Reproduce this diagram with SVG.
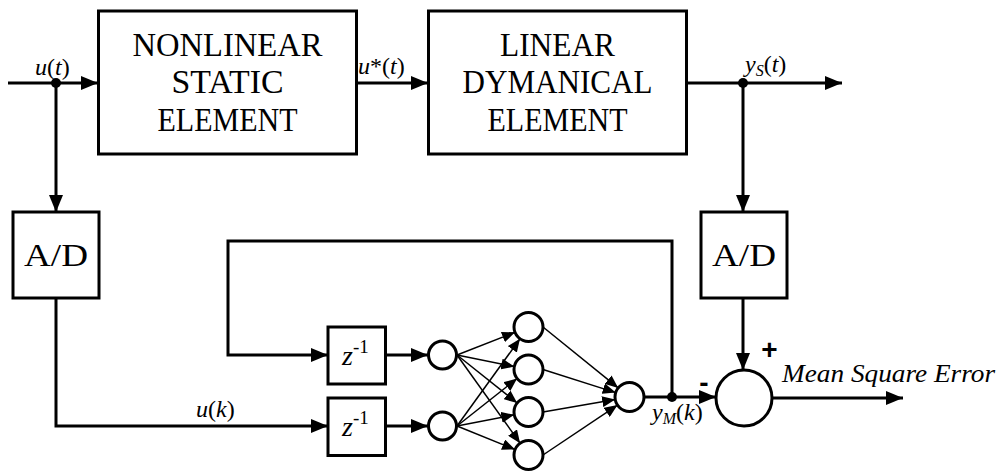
<svg xmlns="http://www.w3.org/2000/svg" width="1005" height="471" viewBox="0 0 1005 471">
<style>
.box{fill:#fff;stroke:#000;stroke-width:3}
.node{fill:#fff;stroke:#000;stroke-width:3}
.w{fill:none;stroke:#000;stroke-width:3}
.t{fill:none;stroke:#000;stroke-width:1.5}
.lbl{font-family:'Liberation Serif','Times New Roman',serif;fill:#000}
.big{font-size:33px;text-anchor:middle}
.ad{font-size:31px;text-anchor:middle}
.it{font-style:italic}
.sm{font-size:24px}
</style>
<defs>
<marker id="A" markerUnits="userSpaceOnUse" markerWidth="17" markerHeight="14" refX="17" refY="7" orient="auto"><path d="M0,0 L17,7 L0,14 z" fill="#000"/></marker>
<marker id="a" markerUnits="userSpaceOnUse" markerWidth="13" markerHeight="11" refX="13" refY="5.5" orient="auto"><path d="M0,0 L13,5.5 L0,11 z" fill="#000"/></marker>
</defs>
<rect width="1005" height="471" fill="#fff"/>
<g id="connectors">
<path class="w" d="M8,83 H98" marker-end="url(#A)"/>
<path class="w" d="M357,83 H428" marker-end="url(#A)"/>
<path class="w" d="M687,83 H842" marker-end="url(#A)"/>
<path class="w" d="M56,83 V212" marker-end="url(#A)"/>
<path class="w" d="M743,83 V212" marker-end="url(#A)"/>
<path class="w" d="M56,298 V426 H328" marker-end="url(#A)"/>
<path class="w" d="M672,397 V241 H228 V355 H328" marker-end="url(#A)"/>
<path class="w" d="M386,355 H428" marker-end="url(#A)"/>
<path class="w" d="M386,426 H428" marker-end="url(#A)"/>
<path class="w" d="M644,397 H716" marker-end="url(#A)"/>
<path class="w" d="M743,298 V370" marker-end="url(#A)"/>
<path class="w" d="M772,398 H903" marker-end="url(#A)"/>
<g marker-end="url(#a)">
<path class="t" d="M457,355 L515,332.3"/>
<path class="t" d="M457,355 L514.3,366.6"/>
<path class="t" d="M457,355 L517.2,403"/>
<path class="t" d="M457,355 L520.1,443.2"/>
<path class="t" d="M457,426 L520,338.8"/>
<path class="t" d="M457,426 L517.1,378.5"/>
<path class="t" d="M457,426 L514.3,414.8"/>
<path class="t" d="M457,426 L515.1,449.5"/>
<path class="t" d="M543,327 L618.2,387.9"/>
<path class="t" d="M543,369.5 L615.7,392.6"/>
<path class="t" d="M543,412 L615.2,399.5"/>
<path class="t" d="M543,455 L617.5,405.1"/>
</g>
<circle cx="56" cy="83" r="5" fill="#000"/>
<circle cx="743" cy="83" r="5" fill="#000"/>
<circle cx="672" cy="397" r="5" fill="#000"/>
</g>
<g id="nonlinear">
<rect class="box" x="98.5" y="11" width="258" height="143"/>
<text class="lbl big" font-family="Liberation Serif, serif" x="227.5" y="56" textLength="190" lengthAdjust="spacingAndGlyphs">NONLINEAR</text>
<text class="lbl big" font-family="Liberation Serif, serif" x="227.5" y="93.3" textLength="112" lengthAdjust="spacingAndGlyphs">STATIC</text>
<text class="lbl big" font-family="Liberation Serif, serif" x="227.5" y="130.7" textLength="140" lengthAdjust="spacingAndGlyphs">ELEMENT</text>
</g>
<g id="linear">
<rect class="box" x="428.5" y="11" width="258" height="143"/>
<text class="lbl big" font-family="Liberation Serif, serif" x="557.5" y="56" textLength="115" lengthAdjust="spacingAndGlyphs">LINEAR</text>
<text class="lbl big" font-family="Liberation Serif, serif" x="557.5" y="93.3" textLength="190" lengthAdjust="spacingAndGlyphs">DYMANICAL</text>
<text class="lbl big" font-family="Liberation Serif, serif" x="557.5" y="130.7" textLength="140" lengthAdjust="spacingAndGlyphs">ELEMENT</text>
</g>
<g id="ad-left">
<rect class="box" x="13" y="212" width="86" height="86"/>
<text class="lbl ad" x="56" y="266" textLength="64" lengthAdjust="spacingAndGlyphs">A/D</text>
</g>
<g id="ad-right">
<rect class="box" x="701" y="212" width="86" height="86"/>
<text class="lbl ad" x="744" y="266" textLength="64" lengthAdjust="spacingAndGlyphs">A/D</text>
</g>
<g id="delay-top">
<rect class="box" x="328" y="327" width="57.5" height="57"/>
<text class="lbl" x="342" y="365" font-size="28"><tspan font-style="italic">z</tspan><tspan font-size="19" dy="-12">-1</tspan></text>
</g>
<g id="delay-bottom">
<rect class="box" x="328" y="398" width="57.5" height="57.5"/>
<text class="lbl" x="342" y="436" font-size="28"><tspan font-style="italic">z</tspan><tspan font-size="19" dy="-12">-1</tspan></text>
</g>
<g id="input1"><circle class="node" cx="442.5" cy="355" r="14"/></g>
<g id="input2"><circle class="node" cx="442.5" cy="426" r="14"/></g>
<g id="hidden1"><circle class="node" cx="528.5" cy="327" r="14.5"/></g>
<g id="hidden2"><circle class="node" cx="528.5" cy="369.5" r="14.5"/></g>
<g id="hidden3"><circle class="node" cx="528.5" cy="412" r="14.5"/></g>
<g id="hidden4"><circle class="node" cx="528.5" cy="455" r="14.5"/></g>
<g id="output"><circle class="node" cx="629.5" cy="397" r="14.5"/></g>
<g id="sum"><circle class="node" cx="744" cy="398" r="28"/></g>
<g id="labels">
<text class="lbl sm" x="35" y="75"><tspan class="it">u</tspan>(<tspan class="it">t</tspan>)</text>
<text class="lbl sm" x="358" y="74"><tspan class="it">u</tspan>*(<tspan class="it">t</tspan>)</text>
<text class="lbl sm" x="745" y="72"><tspan class="it">y</tspan><tspan font-size="16" dy="4" class="it">S</tspan><tspan dy="-4">(</tspan><tspan class="it">t</tspan>)</text>
<text class="lbl sm" x="196" y="417"><tspan class="it">u</tspan>(<tspan class="it">k</tspan>)</text>
<text class="lbl sm" x="652" y="420"><tspan class="it">y</tspan><tspan font-size="16" dy="4" class="it">M</tspan><tspan dy="-4">(</tspan><tspan class="it">k</tspan>)</text>
<text x="769.5" y="359" font-family="Liberation Sans,sans-serif" font-size="28" font-weight="bold" text-anchor="middle">+</text>
<text x="704" y="392" font-family="Liberation Sans,sans-serif" font-size="28" font-weight="bold" text-anchor="middle">-</text>
<text class="lbl it" x="782" y="382" font-size="25" textLength="213" lengthAdjust="spacingAndGlyphs">Mean Square Error</text>
</g>
</svg>
